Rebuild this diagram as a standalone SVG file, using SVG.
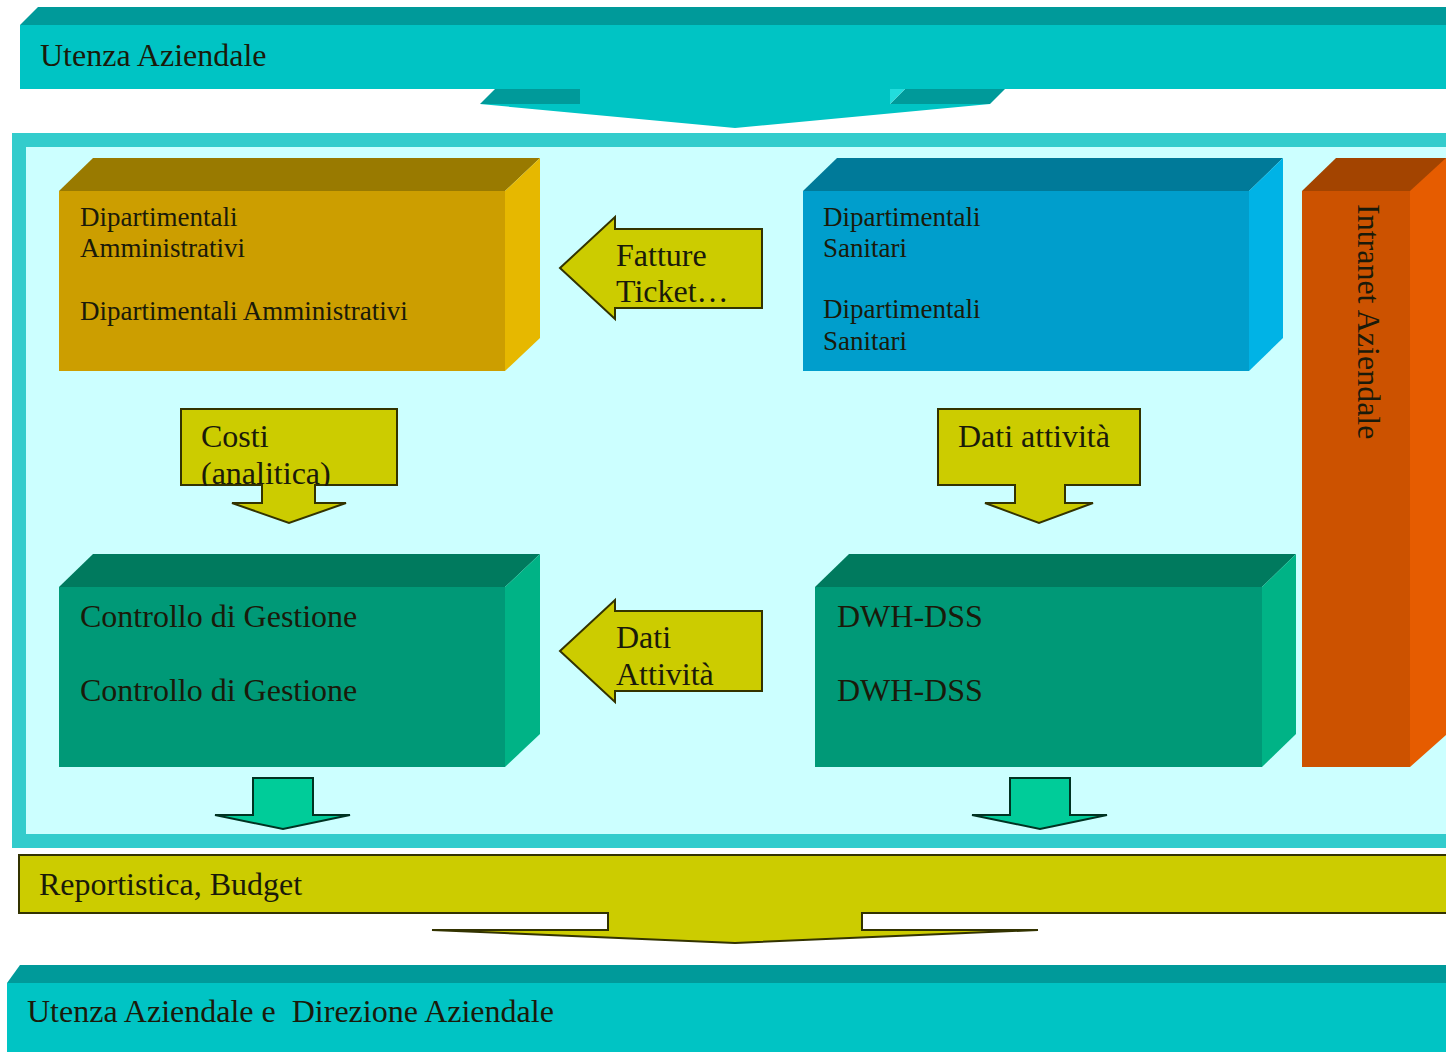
<svg xmlns="http://www.w3.org/2000/svg" width="1446" height="1052" viewBox="0 0 1446 1052">
<defs>
<style>
text{font-family:"Liberation Serif","Times New Roman",serif;fill:#1a1a0a;}
.t24{font-size:27px;}
.t28{font-size:32px;}
.arrowY{fill:#CCCC00;stroke:#333300;stroke-width:2;stroke-linejoin:miter;}
.arrowG{fill:#00CC99;stroke:#003322;stroke-width:2;}
</style>
<clipPath id="costiClip"><rect x="181" y="409" width="217" height="77"/></clipPath>
</defs>
<rect x="0" y="0" width="1446" height="1052" fill="#ffffff"/>

<g id="utenza-top">
<polygon points="480,104 495,89 580,89 580,104" fill="#009A9A"/>
<polygon points="890,104 905,89 1005,89 990,104" fill="#009A9A"/>
<polygon points="890,104 905,89 890,89" fill="#22DDDD"/>
<polygon points="580,89 890,89 890,104 990,104 735,128 480,104 580,104" fill="#00C4C4"/>
<polygon points="20,25 38,7 1446,7 1446,25" fill="#009A9A"/>
<rect x="20" y="25" width="1426" height="64" fill="#00C4C4"/>
<text x="40" y="66" class="t28">Utenza Aziendale</text>
</g>

<g id="frame">
<rect x="19" y="140" width="1434" height="701" fill="#CCFFFF" stroke="#33CCCC" stroke-width="14"/>
</g>

<g id="dip-amm">
<polygon points="59,191 93,158 540,158 505,191" fill="#997A00"/>
<polygon points="505,191 540,158 540,338 505,371" fill="#E6B800"/>
<rect x="59" y="191" width="446" height="180" fill="#CC9E00"/>
<text x="80" y="226" class="t24">Dipartimentali</text>
<text x="80" y="257" class="t24">Amministrativi</text>
<text x="80" y="320" class="t24">Dipartimentali Amministrativi</text>
</g>

<g id="dip-san">
<polygon points="803,191 837,158 1283,158 1249,191" fill="#007A99"/>
<polygon points="1249,191 1283,158 1283,338 1249,371" fill="#00B3E6"/>
<rect x="803" y="191" width="446" height="180" fill="#009ECC"/>
<text x="823" y="226" class="t24">Dipartimentali</text>
<text x="823" y="257" class="t24">Sanitari</text>
<text x="823" y="318" class="t24">Dipartimentali</text>
<text x="823" y="350" class="t24">Sanitari</text>
</g>

<g id="intranet">
<polygon points="1302,191 1336,158 1446,158 1446,191" fill="#A34400"/>
<polygon points="1410,191 1446,158 1446,735 1410,767" fill="#E65C00"/>
<rect x="1302" y="191" width="108" height="576" fill="#CC5200"/>
<text class="t28" transform="translate(1358,204) rotate(90)">Intranet Aziendale</text>
</g>

<g id="ctrl-gestione">
<polygon points="59,587 93,554 540,554 505,587" fill="#007A5E"/>
<polygon points="505,587 540,554 540,734 505,767" fill="#00B386"/>
<rect x="59" y="587" width="446" height="180" fill="#009977"/>
<text x="80" y="627" class="t28">Controllo di Gestione</text>
<text x="80" y="701" class="t28">Controllo di Gestione</text>
</g>

<g id="dwh">
<polygon points="815,587 849,554 1296,554 1262,587" fill="#007A5E"/>
<polygon points="1262,587 1296,554 1296,734 1262,767" fill="#00B386"/>
<rect x="815" y="587" width="447" height="180" fill="#009977"/>
<text x="837" y="627" class="t28">DWH-DSS</text>
<text x="837" y="701" class="t28">DWH-DSS</text>
</g>

<g id="reportistica">
<polygon points="608,913 608,930 432,930 735,943 1038,930 862,930 862,913" class="arrowY"/>
<rect x="19" y="855" width="1440" height="58" class="arrowY"/>
<rect x="609" y="910" width="252" height="6" fill="#CCCC00"/>
<text x="39" y="895" class="t28">Reportistica, Budget</text>
</g>

<g id="utenza-bottom">
<polygon points="7,983 20,965 1446,965 1446,983" fill="#009A9A"/>
<rect x="7" y="983" width="1439" height="69" fill="#00C4C4"/>
<text x="27" y="1022" class="t28" xml:space="preserve">Utenza Aziendale e  Direzione Aziendale</text>
</g>

<g id="connectors">
<g id="fatture">
<polygon points="560,268 615,217 615,229 762,229 762,308 615,308 615,319" class="arrowY"/>
<text x="616" y="266" class="t28">Fatture</text>
<text x="616" y="302" class="t28">Ticket…</text>
</g>
<g id="costi">
<polygon points="181,409 397,409 397,485 315,485 315,503 346,503 289,523 232,503 262,503 262,485 181,485" class="arrowY"/>
<text x="201" y="447" class="t28">Costi</text>
<text x="201" y="484" class="t28" clip-path="url(#costiClip)">(analitica)</text>
</g>
<g id="dati-attivita-down">
<polygon points="938,409 1140,409 1140,485 1065,485 1065,503 1093,503 1039,523 985,503 1015,503 1015,485 938,485" class="arrowY"/>
<text x="958" y="447" class="t28">Dati attività</text>
</g>
<g id="dati-attivita-left">
<polygon points="560,651 615,600 615,611 762,611 762,691 615,691 615,702" class="arrowY"/>
<text x="616" y="648" class="t28">Dati</text>
<text x="616" y="685" class="t28">Attività</text>
</g>
<polygon points="253,778 313,778 313,815 350,815 283,829 215,815 253,815" class="arrowG"/>
<polygon points="1010,778 1070,778 1070,815 1107,815 1040,829 972,815 1010,815" class="arrowG"/>
</g>
</svg>
